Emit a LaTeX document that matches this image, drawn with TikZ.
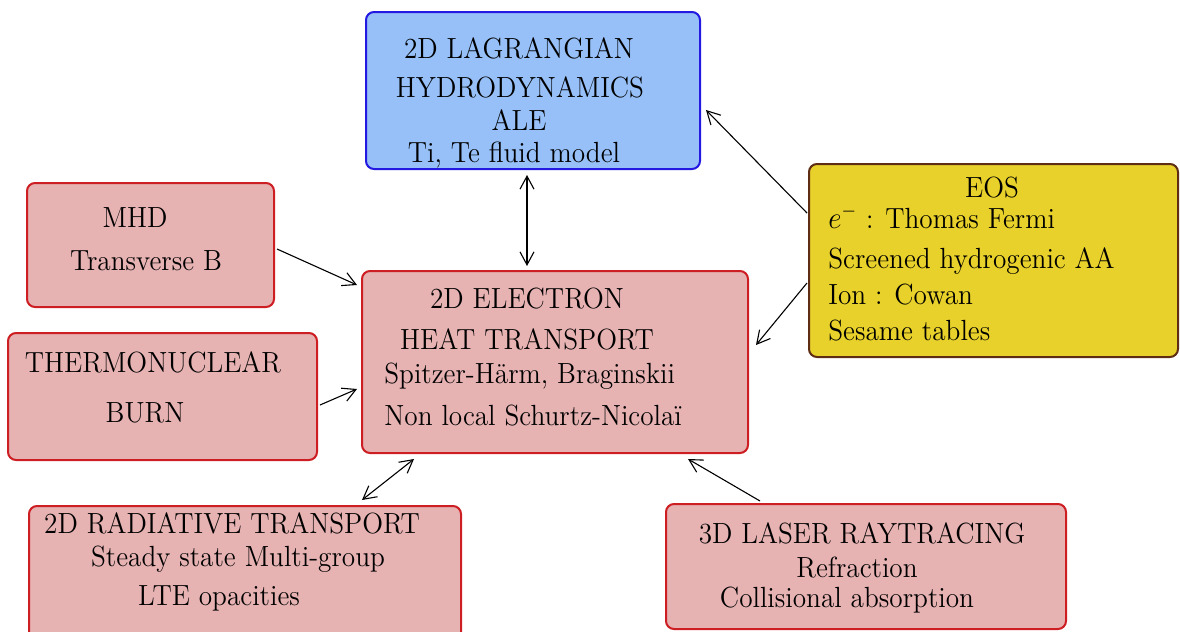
\documentclass[tikz,border=0pt]{standalone}
\usepackage{graphicx}
\usetikzlibrary{arrows.meta}
\definecolor{pinkfill}{RGB}{230,178,178}
\definecolor{redline}{RGB}{205,30,35}
\definecolor{bluefill}{RGB}{150,192,247}
\definecolor{blueline}{RGB}{35,25,225}
\definecolor{yellowfill}{RGB}{232,209,42}
\definecolor{brownline}{RGB}{95,45,20}
\newcommand\vst[1]{\scalebox{1.01}[1.08]{#1}}
\begin{document}
\begin{tikzpicture}[x=0.5pt,y=-0.5pt,
  box/.style={draw, line width=1pt, rounded corners=4pt, inner sep=0pt},
  pinkbox/.style={box, fill=pinkfill, draw=redline},
  txt/.style={inner sep=0pt, font=\fontsize{13.5}{16}\selectfont},
  ctxt/.style={txt, anchor=base},
  ltxt/.style={txt, anchor=base west},
  conn/.style={line width=0.55pt, -{Straight Barb[length=6.5pt,width=7pt]}},
  biconn/.style={line width=0.55pt, {Straight Barb[length=6.5pt,width=7pt]}-{Straight Barb[length=6.5pt,width=7pt]}}]
\useasboundingbox (0,0) rectangle (1180,632);
\clip (0,0) rectangle (1180,632);
% boxes
\node[box, fill=bluefill, draw=blueline, minimum width=167pt, minimum height=78.5pt] (hydro) at (533,90.5) {};
\node[box, fill=yellowfill, draw=brownline, minimum width=184.5pt, minimum height=96.5pt] (eos) at (993.5,260.5) {};
\node[pinkbox, minimum width=123.5pt, minimum height=62pt] (mhd) at (150.5,245) {};
\node[pinkbox, minimum width=154.5pt, minimum height=63.5pt] (burn) at (162.5,396.5) {};
\node[pinkbox, minimum width=193pt, minimum height=91pt] (elec) at (555,362) {};
\node[pinkbox, minimum width=216pt, minimum height=76pt] (rad) at (245,582) {};
\node[pinkbox, minimum width=200pt, minimum height=62.5pt] (laser) at (866,566.5) {};
% texts
\node[ctxt] (h1) at (519,58) {\vst{2D LAGRANGIAN}};
\node[ctxt] (h2) at (520,97) {\vst{HYDRODYNAMICS}};
\node[ctxt] (h3) at (519,130) {\vst{ALE}};
\node[ctxt] (h4) at (514,162) {\vst{Ti, Te fluid model}};
\node[ctxt] (e1) at (992,197) {\vst{EOS}};
\node[ltxt] (e2) at (828,228) {\vst{$e^-$ : Thomas Fermi}};
\node[ltxt] (e3) at (828,268) {\vst{Screened hydrogenic AA}};
\node[ltxt] (e4) at (828,304) {\vst{Ion : Cowan}};
\node[ltxt] (e5) at (828,340) {\vst{Sesame tables}};
\node[ctxt] (m1) at (135,227) {\vst{MHD}};
\node[ctxt] (m2) at (146,270) {\vst{Transverse B}};
\node[ctxt] (b1) at (153,372) {\vst{THERMONUCLEAR}};
\node[ctxt] (b2) at (145,422) {\vst{BURN}};
\node[ctxt] (c1) at (527,308) {\vst{2D ELECTRON}};
\node[ctxt] (c2) at (527,349) {\vst{HEAT TRANSPORT}};
\node[ltxt] (c3) at (384,383) {\vst{Spitzer-Härm, Braginskii}};
\node[ltxt] (c4) at (384,425) {\vst{Non local Schurtz-Nicolaï}};
\node[ctxt] (r1) at (232,533) {\vst{2D RADIATIVE TRANSPORT}};
\node[ctxt] (r2) at (238,566) {\vst{Steady state Multi-group}};
\node[ctxt] (r3) at (219,605) {\vst{LTE opacities}};
\node[ctxt] (l1) at (862,543) {\vst{3D LASER RAYTRACING}};
\node[ctxt] (l2) at (857,577) {\vst{Refraction}};
\node[ctxt] (l3) at (847,607) {\vst{Collisional absorption}};
% connector ends
\coordinate (hydroS) at (527,175);
\coordinate (elecN) at (527,266);
\coordinate (eosA) at (807,213);
\coordinate (hydroE) at (706,110);
\coordinate (eosB) at (807,283);
\coordinate (elecE) at (756,345);
\coordinate (mhdE) at (277,249);
\coordinate (elecW1) at (357,285);
\coordinate (burnE) at (320,405);
\coordinate (elecW2) at (357,389);
\coordinate (radN) at (362,500);
\coordinate (elecS1) at (414,459);
\coordinate (laserN) at (760,501);
\coordinate (elecS2) at (688,459);
% connectors
\draw[biconn] (hydroS) -- (elecN);
\draw[conn] (eosA) -- (hydroE);
\draw[conn] (eosB) -- (elecE);
\draw[conn] (mhdE) -- (elecW1);
\draw[conn] (burnE) -- (elecW2);
\draw[biconn] (radN) -- (elecS1);
\draw[conn] (laserN) -- (elecS2);
\end{tikzpicture}
\end{document}
